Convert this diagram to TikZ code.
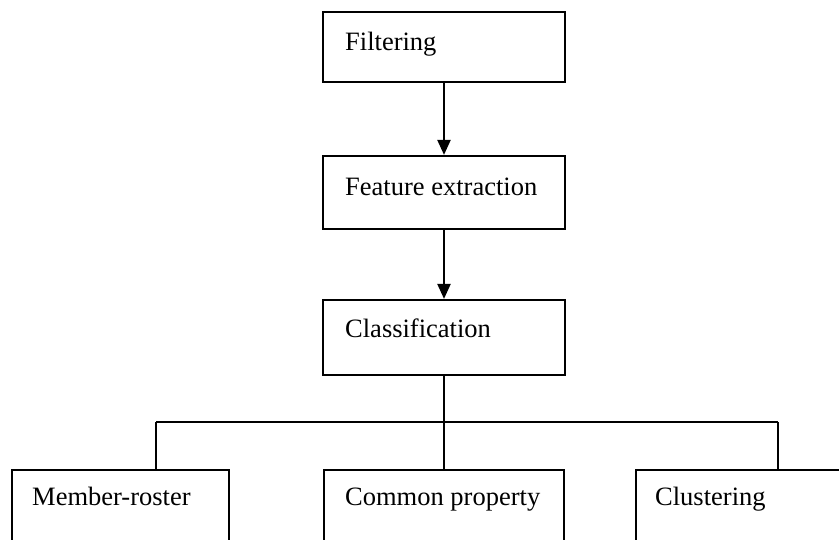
\documentclass[tikz,border=0pt]{standalone}
\usepackage{fontspec}
\setmainfont{Liberation Serif}
\usetikzlibrary{arrows.meta}
\begin{document}
\begin{tikzpicture}[x=1pt,y=-1pt,
  stagebox/.style={draw,line width=2.2pt,rectangle,minimum width=242pt,inner sep=0pt},
  leafbox/.style={draw,line width=2.2pt,rectangle,inner sep=0pt,minimum height=110pt},
  boxtext/.style={anchor=base west,inner sep=0pt,font=\fontsize{26.5}{30}\selectfont},
  flow/.style={line width=2.2pt,-{Triangle[length=15pt,width=13pt]}},
  tree/.style={line width=2.2pt}]
\useasboundingbox (0,0) rectangle (839,539);
\clip (0,0) rectangle (839,539);

% main pipeline
\node[stagebox,minimum height=70pt] (filt) at (444,47) {};
\node[stagebox,minimum height=73pt] (feat) at (444,192.5) {};
\node[stagebox,minimum height=75pt] (clas) at (444,337.5) {};

\node[boxtext] (tfilt) at (345,50) {Filtering};
\node[boxtext] (tfeat) at (345,195) {Feature extraction};
\node[boxtext] (tclas) at (345,337) {Classification};

\draw[flow] (filt.south) -- (feat.north);
\draw[flow] (feat.south) -- (clas.north);

% classification categories
\node[leafbox,minimum width=217pt,anchor=north west] (memb) at (11,469) {};
\node[leafbox,minimum width=240pt,anchor=north west] (comm) at (323,469) {};
\node[leafbox,minimum width=240pt,anchor=north west] (clus) at (635,469) {};

\node[boxtext] (tmemb) at (32,505) {Member-roster};
\node[boxtext] (tcomm) at (345,505) {Common property};
\node[boxtext] (tclus) at (655,505) {Clustering};

\coordinate (hub) at (444,422);
\coordinate (jl) at (156,422);
\coordinate (jr) at (778,422);

\draw[tree] (clas.south) -- (hub);
\draw[tree] (jl) -- (jr);
\draw[tree] (jl) -- (jl |- memb.north);
\draw[tree] (hub) -- (hub |- comm.north);
\draw[tree] (jr) -- (jr |- clus.north);
\end{tikzpicture}
\end{document}
